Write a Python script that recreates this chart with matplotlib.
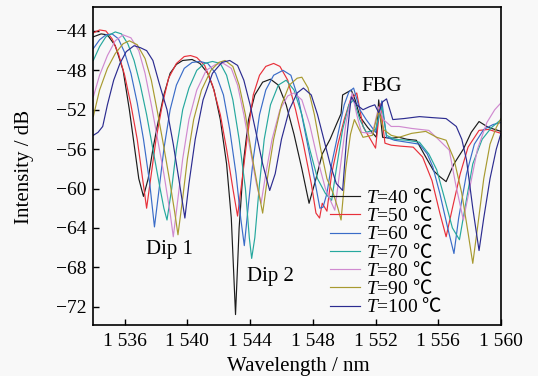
import matplotlib
matplotlib.use("Agg")
import matplotlib.pyplot as plt

plt.rcParams['font.family'] = ['Liberation Serif', 'Noto Sans CJK SC']
plt.rcParams['mathtext.fontset'] = 'custom'
plt.rcParams['mathtext.rm'] = 'Liberation Serif'
plt.rcParams['mathtext.it'] = 'Liberation Serif:italic'
plt.rcParams['mathtext.sf'] = 'Noto Sans CJK SC'

# ---------------- data (wavelength nm, intensity dB) ----------------
wl_40 = [1534.0,1534.5,1534.9,1535.4,1535.9,1536.3,1536.6,1536.9,1537.2,1537.5,1537.8,1538.1,1538.5,1538.9,1539.3,1539.7,1540.3,1540.8,1541.3,1541.7,1542.1,1542.5,1542.8,1543.07,1543.3,1543.6,1543.9,1544.3,1544.8,1545.3,1545.8,1546.3,1546.8,1547.3,1547.76,1548.2,1548.6,1549.1,1549.5,1549.8,1549.9,1550.45,1550.7,1551.0,1551.5,1552.05,1552.2,1552.45,1553.0,1553.5,1554.0,1554.6,1555.2,1555.7,1556.1,1556.5,1557.0,1557.6,1558.1,1558.6,1559.2,1560.0]
db_40 = [-44.6,-44.3,-44.4,-45.5,-48,-52,-55.5,-59,-60.8,-59,-56,-53.5,-50.5,-48.3,-47.4,-47.0,-46.9,-47.3,-48.3,-50,-53,-57.5,-63,-72.8,-64,-57,-53,-50.5,-49.2,-48.9,-49.5,-51.5,-54.5,-58,-61.5,-59,-56.5,-55,-53.5,-52.4,-50.5,-50,-51,-52.7,-53.8,-54.8,-51,-54.8,-54.9,-54.8,-55,-55.1,-56.8,-58.2,-58.8,-59.3,-57.5,-56,-54.3,-53.2,-53.8,-54.2]

wl_50 = [1534.0,1534.4,1534.8,1535.2,1535.6,1536.0,1536.4,1536.8,1537.1,1537.4,1537.7,1538.0,1538.4,1538.8,1539.3,1539.8,1540.2,1540.6,1541.1,1541.6,1542.1,1542.5,1542.9,1543.2,1543.5,1543.8,1544.2,1544.6,1545.0,1545.5,1545.9,1546.4,1546.9,1547.4,1547.9,1548.2,1548.43,1548.6,1548.9,1549.2,1549.6,1550.0,1550.4,1550.8,1551.2,1551.6,1552.0,1552.3,1552.6,1553.0,1553.6,1554.4,1555.0,1555.6,1556.1,1556.5,1556.9,1557.4,1557.9,1558.6,1559.2,1560.0]
db_50 = [-44.2,-43.9,-44.0,-44.8,-46.3,-48.5,-51.5,-55,-58.5,-62,-58.5,-55,-51.5,-48.8,-47.3,-46.6,-46.5,-46.7,-47.5,-49.5,-52.5,-56,-60,-62.8,-59,-55,-50.5,-48.5,-47.6,-47.3,-47.6,-49,-52,-55.5,-59.5,-62.5,-63,-61.5,-62.3,-58.5,-55.5,-53,-51,-50.3,-53.7,-54.8,-55.9,-51.4,-55.4,-55.6,-55.7,-55.8,-56.8,-59.2,-62.5,-64.9,-62,-58.5,-55.8,-54.1,-54,-54.4]

wl_60 = [1534.0,1534.4,1534.8,1535.2,1535.6,1536.0,1536.4,1536.8,1537.2,1537.6,1537.9,1538.2,1538.5,1538.9,1539.3,1539.8,1540.3,1540.8,1541.3,1541.8,1542.3,1542.7,1543.1,1543.4,1543.63,1543.9,1544.2,1544.6,1545.0,1545.5,1546.1,1546.6,1547.1,1547.6,1548.1,1548.45,1548.65,1548.9,1549.2,1549.6,1550.0,1550.3,1550.6,1551.0,1551.4,1552.0,1552.4,1552.7,1553.2,1554.0,1554.8,1555.3,1555.65,1556.1,1556.6,1557.0,1557.3,1557.8,1558.3,1558.9,1559.5,1560.0]
db_60 = [-45.8,-44.9,-44.4,-44.3,-44.8,-46.2,-48.3,-51.3,-55,-59.5,-63.9,-60,-56,-52,-49.5,-47.8,-47.2,-47.1,-47.3,-48.3,-50.5,-54,-58.5,-63,-65.8,-61.5,-57,-52.5,-50,-48.5,-48,-48.5,-51,-55,-59,-62,-61.9,-60.5,-57.5,-54.5,-51.5,-50.2,-49.8,-52,-53,-54.3,-51.1,-54.8,-55.1,-55.3,-55.5,-56.5,-57.8,-60.5,-64,-66.6,-63,-58.5,-55.5,-54,-53.5,-53.3]

wl_70 = [1534.0,1534.4,1534.8,1535.4,1535.8,1536.2,1536.6,1537.0,1537.4,1537.8,1538.2,1538.5,1538.7,1539.0,1539.3,1539.7,1540.1,1540.6,1541.1,1541.6,1542.1,1542.5,1542.9,1543.3,1543.7,1543.95,1544.1,1544.3,1544.6,1544.9,1545.3,1545.8,1546.3,1546.8,1547.3,1547.8,1548.3,1548.8,1549.2,1549.5,1549.9,1550.3,1550.6,1551.0,1551.4,1552.0,1552.4,1552.7,1553.2,1554.0,1554.8,1555.4,1555.9,1556.4,1556.9,1557.35,1557.7,1558.2,1558.8,1559.4,1560.0]
db_70 = [-47.0,-45.6,-44.6,-44.1,-44.3,-45.3,-47,-49.5,-52.5,-56,-59.5,-62,-63.2,-60,-56,-52,-49.8,-48,-47.3,-47.1,-47.3,-48.5,-51,-55,-60,-65,-67.1,-65,-59.5,-55,-51.5,-49.5,-49,-50,-52.5,-56,-59,-60.5,-61.2,-58,-54,-51.5,-51,-53,-54.3,-54,-51.7,-54.6,-55,-55.1,-55.3,-56.5,-58.1,-61,-64,-65.2,-62,-57.5,-55,-53.8,-53]

wl_80 = [1534.0,1534.4,1534.9,1535.4,1535.9,1536.4,1536.9,1537.3,1537.7,1538.1,1538.5,1538.9,1539.1,1539.4,1539.7,1540.1,1540.6,1541.2,1541.8,1542.3,1542.8,1543.2,1543.6,1544.0,1544.4,1544.7,1545.0,1545.4,1545.9,1546.4,1546.8,1547.3,1547.8,1548.3,1548.8,1549.2,1549.4,1549.7,1550.1,1550.5,1550.8,1551.1,1551.8,1552.2,1552.5,1553.0,1553.5,1554.3,1555.4,1556.0,1556.7,1557.1,1557.6,1558.0,1558.5,1559.1,1559.6,1560.0]
db_80 = [-50.7,-48.5,-46.5,-45,-44.4,-44.7,-46,-48.3,-51.5,-55,-58.5,-62.5,-64.9,-61,-57,-53,-50,-48,-47.4,-47.3,-47.8,-49.5,-52.5,-56,-59.5,-61.5,-58.5,-55,-52,-50.6,-50.3,-51,-53.5,-57,-60,-61.5,-62.2,-58.5,-53.5,-50.3,-52.5,-54.3,-54.4,-51.7,-53,-53.7,-53.7,-53.9,-54.1,-55,-56.1,-59.5,-63.2,-60,-56,-53.3,-52,-51.3]

wl_90 = [1534.0,1534.4,1534.9,1535.4,1535.9,1536.3,1536.8,1537.3,1537.7,1538.1,1538.5,1538.9,1539.2,1539.4,1539.7,1540.0,1540.4,1540.9,1541.5,1542.0,1542.4,1542.9,1543.3,1543.7,1544.1,1544.5,1544.8,1545.1,1545.5,1546.0,1546.5,1547.0,1547.3,1547.7,1548.1,1548.5,1548.9,1549.3,1549.6,1549.8,1550.1,1550.4,1550.65,1551.2,1551.8,1552.2,1552.5,1553.0,1553.5,1554.3,1555.2,1555.9,1556.5,1557.0,1557.5,1557.9,1558.2,1558.5,1558.9,1559.3,1559.7,1560.0]
db_90 = [-52.7,-50,-47.8,-46.3,-45.3,-45,-45.4,-46.8,-49,-52.3,-55.8,-59.5,-62.5,-64.7,-61,-57,-53,-50,-48,-47.2,-47,-47.6,-49.5,-52.5,-56.5,-60,-62.5,-59,-55,-51.5,-49.5,-48.8,-48.7,-49.8,-52.5,-56,-59,-60.5,-62,-63.2,-58,-54.5,-53,-54.8,-54.6,-52,-54,-54.6,-54.8,-54.4,-54.2,-54.8,-55.1,-57,-60.5,-64.5,-67.6,-64,-59,-55.5,-53.8,-52.9]

wl_100 = [1534.0,1534.3,1534.6,1534.9,1535.3,1535.7,1536.1,1536.6,1537.0,1537.4,1537.8,1538.2,1538.7,1539.1,1539.5,1539.84,1540.1,1540.5,1541.0,1541.6,1542.2,1542.7,1543.2,1543.6,1544.0,1544.4,1544.8,1545.25,1545.6,1546.0,1546.5,1547.0,1547.4,1547.9,1548.3,1548.7,1549.1,1549.5,1549.9,1550.15,1550.45,1550.8,1551.2,1551.6,1551.95,1552.2,1552.45,1552.7,1553.1,1553.8,1554.8,1555.6,1556.5,1557.15,1557.5,1557.8,1558.2,1558.6,1558.9,1559.3,1559.7,1560.0]
db_100 = [-54.6,-54.3,-53.7,-51.5,-49,-47.3,-46.1,-45.5,-45.7,-46,-47,-49.3,-52,-55.5,-59.5,-63,-59.5,-55,-51,-48.3,-47.2,-47,-47.5,-49,-51.5,-54.5,-57.5,-60.2,-58.5,-55,-52,-50.3,-49.8,-50.5,-52.5,-55,-57.5,-59.5,-60.2,-55,-50.7,-51.5,-52,-51.7,-51.5,-52.3,-51.2,-50.9,-53,-52.9,-52.7,-52.8,-52.9,-53.7,-55,-57.1,-62,-66.3,-63,-59,-56,-54.4]

temps = [40, 50, 60, 70, 80, 90, 100]
colors = ['#1c1c1c', '#e8303a', '#3a6cc8', '#26a89e', '#d08ad0', '#a89a30', '#2c2c90']
series = [(wl_40, db_40), (wl_50, db_50), (wl_60, db_60), (wl_70, db_70),
          (wl_80, db_80), (wl_90, db_90), (wl_100, db_100)]

x_ticks = [1536, 1540, 1544, 1548, 1552, 1556, 1560]
x_ticklabels = ['1 536', '1 540', '1 544', '1 548', '1 552', '1 556', '1 560']
y_ticks = [-44, -48, -52, -56, -60, -64, -68, -72]

# ---------------- figure ----------------
fig = plt.figure(figsize=(5.38, 3.76), dpi=100, facecolor='#f8f8f8')
ax = fig.add_axes([93.3/538, 1-325/376, (501-93.3)/538, (325-7.3)/376])
ax.set_facecolor('#f8f8f8')

for (wl, db), c, t in zip(series, colors, temps):
    ax.plot(wl, db, color=c, lw=0.85, label=r'$T$=%d $\mathsf{℃}$' % t)

ax.set_xlim(1534, 1560)
ax.set_ylim(-73.86, -41.6)
ax.set_xticks(x_ticks)
ax.set_xticklabels(x_ticklabels)
ax.set_yticks(y_ticks)
ax.tick_params(axis='both', direction='in', length=4, width=1, labelsize=14)
ax.tick_params(axis='x', pad=6)
ax.tick_params(axis='y', pad=5)
for s in ax.spines.values():
    s.set_linewidth(1.2)

fig.text(25/538, 1-167/376, 'Intensity / dB', rotation=90, ha='center', va='center', fontsize=15)
fig.text(298/538, 1-367/376, 'Wavelength / nm', ha='center', va='center', fontsize=15)

ax.text(1538.87, -66.15, 'Dip 1', ha='center', va='center', fontsize=15)
ax.text(1545.29, -68.96, 'Dip 2', ha='center', va='center', fontsize=15)
ax.text(1552.37, -49.68, 'FBG', ha='center', va='center', fontsize=15)

leg = ax.legend(loc='upper left', bbox_to_anchor=(330/538, 1-188/376), bbox_transform=fig.transFigure,
                frameon=False, handlelength=1.55, handletextpad=0.3,
                labelspacing=-0.04, borderaxespad=0, borderpad=0,
                prop={'family': ['Liberation Serif', 'Noto Sans CJK SC'], 'size': 14})

fig.savefig('out.png', dpi=100, facecolor=fig.get_facecolor())
